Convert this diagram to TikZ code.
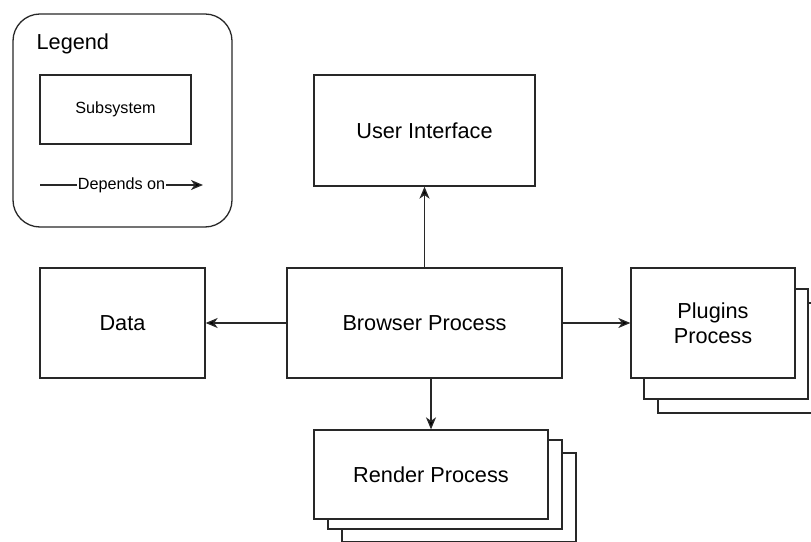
\documentclass[tikz,border=0pt]{standalone}
\usepackage{fontspec}
\setmainfont{Liberation Sans}
\usetikzlibrary{arrows.meta}
\begin{document}
\begin{tikzpicture}[x=1bp,y=-1bp,
  line width=1.3bp, draw={rgb,255:red,40;green,40;blue,40},
  box/.style={draw, fill=white, inner sep=0pt, align=center, font=\fontsize{21.7bp}{25bp}\selectfont},
  small/.style={font=\fontsize{16.2bp}{19bp}\selectfont},
  dep/.style={-{Stealth[length=12bp,width=10bp,inset=3.5bp,fill=black]}}
]
\useasboundingbox (0,0) rectangle (811,542);
% legend
\node[box, rounded corners=27bp, minimum width=219bp, minimum height=213bp] (legend) at (122.5,120.5) {};
\node[anchor=base west, inner sep=0pt, font=\fontsize{21.7bp}{25bp}\selectfont] (legendtitle) at (36,50) {Legend};
\node[box, small, minimum width=151bp, minimum height=69bp] (subsys) at (115.5,109.5) {Subsystem};
\coordinate (d1) at (40,185);
\coordinate (d2) at (203,185);
\draw[dep] (d1) -- (d2);
\node[fill=white, inner sep=1pt, small] (deplabel) at (121.5,185) {Depends on};
% main boxes
\node[box, minimum width=221bp, minimum height=111bp] (ui) at (424.5,130.5) {User Interface};
\node[box, minimum width=275bp, minimum height=110bp] (browser) at (424.5,323) {Browser Process};
\node[box, minimum width=165bp, minimum height=110bp] (data) at (122.5,323) {Data};
% plugins stack
\node[box, minimum width=164bp, minimum height=110bp] (plug3) at (740,358) {};
\node[box, minimum width=164bp, minimum height=110bp] (plug2) at (726,344) {};
\node[box, minimum width=164bp, minimum height=110bp] (plugins) at (713,323) {Plugins\\Process};
% render stack
\node[box, minimum width=234bp, minimum height=89bp] (rend3) at (459,497.5) {};
\node[box, minimum width=234bp, minimum height=89bp] (rend2) at (445,484.5) {};
\node[box, minimum width=234bp, minimum height=89bp] (render) at (431,474.5) {Render Process};
% connectors
\draw[dep] (browser.north) -- (ui.south);
\draw[dep] (browser.west) -- (data.east);
\draw[dep] (browser.east) -- (plugins.west);
\draw[dep] (render.north |- browser.south) -- (render.north);
\end{tikzpicture}
\end{document}
